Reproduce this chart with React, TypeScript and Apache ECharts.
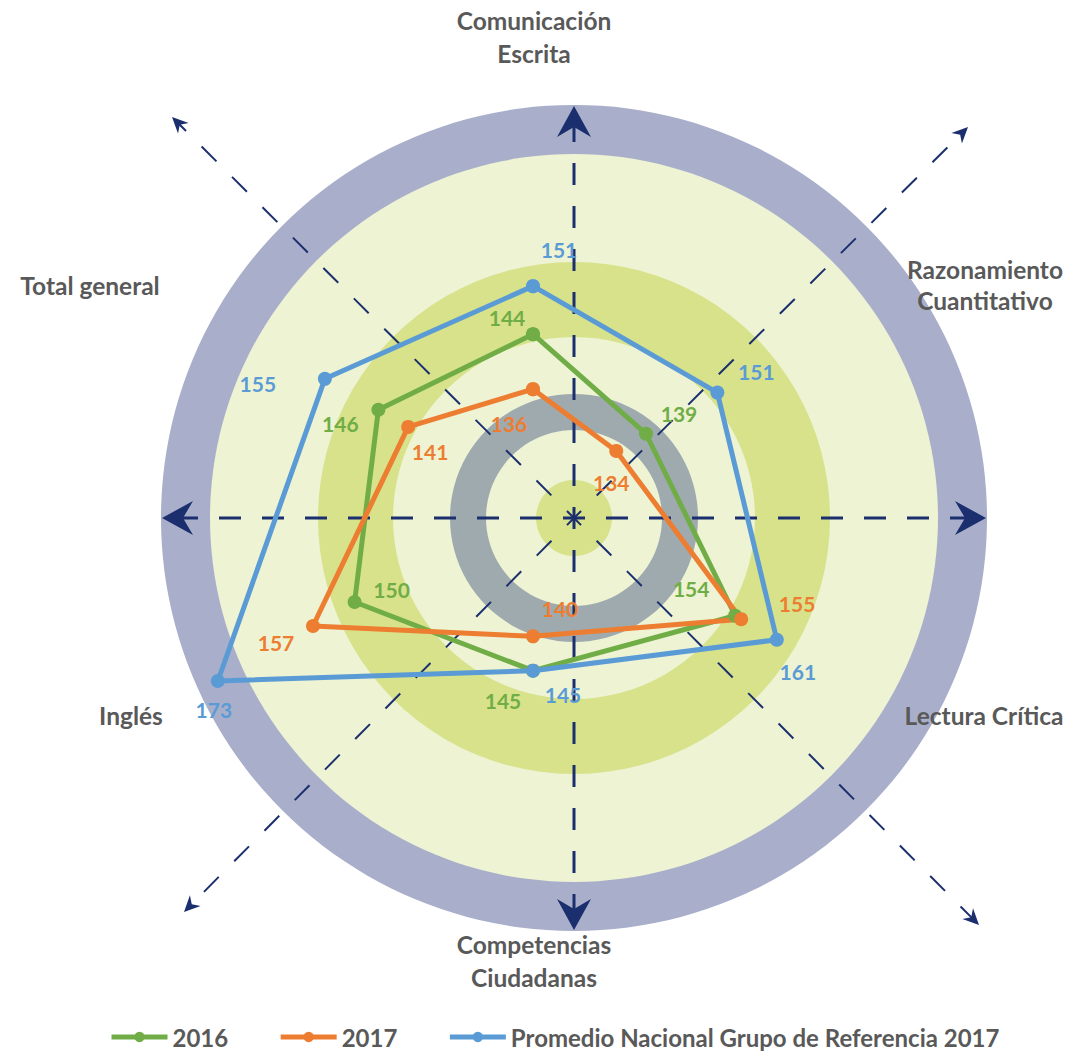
import React, { useEffect, useRef } from 'react';
import * as echarts from 'echarts';

const categories = ['Comunicación\nEscrita', 'Razonamiento\nCuantitativo', 'Lectura Crítica', 'Competencias\nCiudadanas', 'Inglés', 'Total general'];
const seriesNames = ['2016', '2017', 'Promedio Nacional Grupo de Referencia 2017'];
const values2016 = [144, 139, 154, 145, 150, 146];
const values2017 = [136, 134, 155, 140, 157, 141];
const valuesRef = [151, 151, 161, 145, 173, 155];

const colors = ['#70AD47', '#ED7D31', '#5B9BD5'];
const FONT = 'Lato';
const TEXT_GREY = '#595959';
const NAVY = '#1B2F6E';

// label placement offsets (px) relative to each point
const offsets2016 = [[-26, -17], [33, -20], [-44, -27], [-30, 30], [37, -13], [-38, 14]];
const offsets2017 = [[-24, 34], [-5, 32], [56, -16], [27, -28], [-37, 16], [22, 25]];
const offsetsRef = [[26, -37], [39, -21], [21, 32], [30, 24], [-4, 29], [-67, 5]];

// category label layout: [x, y, lineHeight]
const catLayout = [
  [534, 37, 33],
  [985, 285, 31],
  [984, 715, 31],
  [534, 961, 33],
  [131, 715, 31],
  [90, 285, 31],
];

const CX = 574;
const CY = 518;

function arrowHead(tx: number, ty: number, ux: number, uy: number, len: number, hw: number, notch: number) {
  const nx = -uy;
  const ny = ux;
  const bx = tx - ux * len;
  const by = ty - uy * len;
  const mx = tx - ux * notch;
  const my = ty - uy * notch;
  return [
    [tx, ty],
    [bx + nx * hw, by + ny * hw],
    [mx, my],
    [bx - nx * hw, by - ny * hw],
  ];
}

function buildDecor() {
  const els: any[] = [];
  els.push({ type: 'circle', shape: { cx: CX, cy: CY, r: 413 }, style: { fill: '#A9AFCA' }, z: 0 });
  els.push({ type: 'circle', shape: { cx: CX, cy: CY, r: 364 }, style: { fill: '#EDF3D3' }, z: 0 });
  els.push({ type: 'ring', shape: { cx: CX, cy: CY, r: 256, r0: 181 }, style: { fill: '#D7E28B' }, z: 0 });
  els.push({ type: 'ring', shape: { cx: CX, cy: CY, r: 124, r0: 88 }, style: { fill: '#9FAAAF' }, z: 0 });
  els.push({ type: 'circle', shape: { cx: CX, cy: CY, r: 38 }, style: { fill: '#D7E28B' }, z: 0 });

  // main axes (horizontal / vertical) with big arrows
  const mainDirs = [[1, 0], [-1, 0], [0, 1], [0, -1]];
  mainDirs.forEach(([ux, uy]) => {
    const R = 412;
    const tx = CX + ux * R;
    const ty = CY + uy * R;
    els.push({
      type: 'line',
      shape: { x1: CX, y1: CY, x2: CX + ux * (R - 18), y2: CY + uy * (R - 18) },
      style: { stroke: NAVY, lineWidth: 3, lineDash: [22, 21], lineDashOffset: 11 },
      z: 1,
    });
    els.push({
      type: 'polygon',
      shape: { points: arrowHead(tx, ty, ux, uy, 31, 17, 21) },
      style: { fill: NAVY },
      z: 1,
    });
  });

  // diagonal axes
  const diagTips = [[172, 117], [968, 127], [979, 925], [184, 912]];
  diagTips.forEach(([tx, ty]) => {
    const dx = tx - CX;
    const dy = ty - CY;
    const L = Math.sqrt(dx * dx + dy * dy);
    const ux = dx / L;
    const uy = dy / L;
    els.push({
      type: 'line',
      shape: { x1: CX, y1: CY, x2: CX + ux * (L - 10), y2: CY + uy * (L - 10) },
      style: { stroke: NAVY, lineWidth: 2, lineDash: [21, 22], lineDashOffset: 10.5 },
      z: 1,
    });
    els.push({
      type: 'polygon',
      shape: { points: arrowHead(tx, ty, ux, uy, 16, 7.5, 11) },
      style: { fill: NAVY },
      z: 1,
    });
  });

  // category labels
  categories.forEach((name, i) => {
    const [x, y, lh] = catLayout[i];
    els.push({
      type: 'text',
      x,
      y,
      style: {
        text: name,
        align: 'center',
        verticalAlign: 'middle',
        fill: TEXT_GREY,
        font: `bold 24.5px ${FONT}`,
        lineHeight: lh,
      },
      z: 2,
    });
  });
  return els;
}

function buildSeries(name: string, values: number[], offsets: number[][], color: string) {
  const data: any[] = values.map((v, i) => ({ value: [v, i], label: { offset: offsets[i] } }));
  data.push({ value: [values[0], values.length], label: { show: false } });
  return {
    type: 'line',
    name,
    coordinateSystem: 'polar',
    data,
    symbol: 'circle',
    symbolSize: 14,
    lineStyle: { width: 5, color },
    itemStyle: { color },
    label: {
      show: true,
      position: 'inside',
      formatter: (p: any) => String(p.value[0]),
      color,
      fontSize: 21,
      fontWeight: 'bold',
      fontFamily: FONT,
      textBorderWidth: 0,
    },
    emphasis: { disabled: true },
    z: 10,
  };
}

export default function App() {
  const ref = useRef<HTMLDivElement>(null);
  useEffect(() => {
    if (!ref.current) return;
    const chart = echarts.init(ref.current, undefined, { renderer: 'svg' });
    chart.setOption({
      animation: false,
      backgroundColor: '#FFFFFF',
      graphic: buildDecor(),
      polar: { center: [533, 499], radius: 412 },
      radiusAxis: { type: 'value', min: 120, max: 180, show: false },
      angleAxis: { type: 'value', min: 0, max: 6, startAngle: 90, clockwise: true, show: false },
      legend: {
        left: 104,
        top: 1020,
        itemWidth: 56,
        itemHeight: 13,
        itemGap: 50,
        data: seriesNames,
        lineStyle: { width: 5 },
        textStyle: { fontSize: 24, fontWeight: 'bold', color: TEXT_GREY, fontFamily: FONT },
      },
      series: [
        buildSeries(seriesNames[0], values2016, offsets2016, colors[0]),
        buildSeries(seriesNames[1], values2017, offsets2017, colors[1]),
        buildSeries(seriesNames[2], valuesRef, offsetsRef, colors[2]),
      ],
    });
    return () => chart.dispose();
  }, []);
  return (
    <div
      ref={ref}
      style={{ position: 'fixed', left: 0, top: 0, width: 1071, height: 1051 }}
    />
  );
}
